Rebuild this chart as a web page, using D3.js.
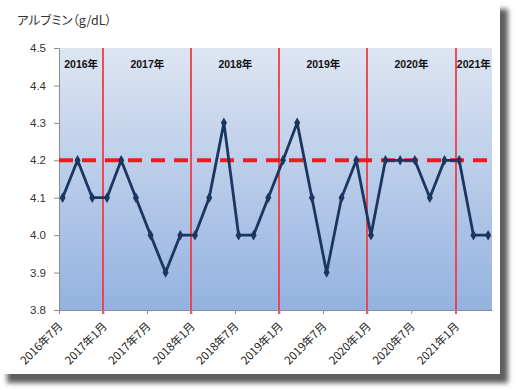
<!DOCTYPE html>
<html><head><meta charset="utf-8">
<script src="https://cdn.jsdelivr.net/npm/d3@7"></script>
<style>
html,body{margin:0;padding:0;background:#fff;}
svg{display:block;}
</style></head>
<body>
<svg id="chart" width="518" height="390"></svg>
<script>
// ---- data ----
const months = ["2016-07","2016-09","2016-11",
  "2017-01","2017-03","2017-05","2017-07","2017-09","2017-11",
  "2018-01","2018-03","2018-05","2018-07","2018-09","2018-11",
  "2019-01","2019-03","2019-05","2019-07","2019-09","2019-11",
  "2020-01","2020-03","2020-05","2020-07","2020-09","2020-11",
  "2021-01","2021-03","2021-05"];
const albumin = [4.1,4.2,4.1,
  4.1,4.2,4.1,4.0,3.9,4.0,
  4.0,4.1,4.3,4.0,4.0,4.1,
  4.2,4.3,4.1,3.9,4.1,4.2,
  4.0,4.2,4.2,4.2,4.1,4.2,
  4.2,4.0,4.0];
const targetValue = 4.2;
const yearLabels = ["2016年","2017年","2018年","2019年","2020年","2021年"];
const yearStarts = ["2016-07","2017-01","2018-01","2019-01","2020-01","2021-01"];
const xTickMonths = ["2016-07","2017-01","2017-07","2018-01","2018-07","2019-01","2019-07","2020-01","2020-07","2021-01"];
const yTicks = [3.8,3.9,4.0,4.1,4.2,4.3,4.4,4.5];
const titleText = "アルブミン（g/dL）";

// ---- layout ----
const svg = d3.select("#chart");
const parse = d3.timeParse("%Y-%m");
const L = 59, R = 492, T = 48, B = 310;
const domainStart = parse("2016-07"), domainEnd = parse("2021-06");
const x = d3.scaleTime().domain([domainStart, domainEnd]).range([L, R]);
const y = d3.scaleLinear().domain([3.8, 4.5]).range([B, T]);
const mid = m => { const d = parse(m); return new Date(d.getFullYear(), d.getMonth(), 16); };

const defs = svg.append("defs");
const f = defs.append("filter").attr("id","sh").attr("x","-10%").attr("y","-10%").attr("width","130%").attr("height","130%");
f.append("feGaussianBlur").attr("stdDeviation", 2.5);
const g = defs.append("linearGradient").attr("id","bg").attr("x1",0).attr("y1",0).attr("x2",0).attr("y2",1);
g.append("stop").attr("offset","0%").attr("stop-color","#dde5f2");
g.append("stop").attr("offset","100%").attr("stop-color","#94b2e0");

// card + shadow
svg.append("rect").attr("x",7).attr("y",9).attr("width",501).attr("height",374).attr("fill","#5e5e5e").attr("filter","url(#sh)");
svg.append("rect").attr("x",0).attr("y",0).attr("width",500).attr("height",374).attr("fill","#fff");

// plot background
svg.append("rect").attr("x",L).attr("y",T).attr("width",R-L).attr("height",B-T).attr("fill","url(#bg)");

// year boundary lines
svg.append("g").selectAll("line").data(yearStarts.slice(1)).join("line")
  .attr("x1", d => Math.round(x(parse(d)))).attr("x2", d => Math.round(x(parse(d))))
  .attr("y1", T).attr("y2", B + 4)
  .attr("stroke", "#f03c46").attr("stroke-width", 1.8);

// year labels
svg.append("g").selectAll("text").data(yearLabels).join("text")
  .attr("x", (d,i) => {
    const a = x(parse(yearStarts[i]));
    const b = i + 1 < yearStarts.length ? x(parse(yearStarts[i+1])) : R;
    return (a + b) / 2;
  })
  .attr("y", 68).attr("text-anchor","middle")
  .attr("font-family","'Liberation Sans', Arial, 'Noto Sans CJK JP', sans-serif")
  .attr("font-weight","bold").attr("font-size",10.5).attr("fill","#111")
  .text(d => d);

// y axis
const yAxis = d3.axisLeft(y).tickValues(yTicks).tickFormat(d3.format(".1f")).tickSize(5).tickPadding(8);
const ya = svg.append("g").attr("transform",`translate(${L},0)`).call(yAxis);
ya.select(".domain").attr("stroke","#8c8c8c");
ya.selectAll(".tick line").attr("stroke","#8c8c8c");
ya.selectAll("text").attr("font-family","'Liberation Sans', Arial, sans-serif").attr("font-size",11.5).attr("fill","#333");

// x axis
const xAxis = d3.axisBottom(x).tickValues(xTickMonths.map(parse)).tickFormat(d3.timeFormat("%Y年%-m月")).tickSize(4).tickSizeOuter(0);
const xa = svg.append("g").attr("transform",`translate(0,${B})`).call(xAxis);
xa.select(".domain").attr("stroke","#8c8c8c");
xa.selectAll(".tick line").attr("stroke","#8c8c8c");
xa.selectAll("text")
  .attr("font-family","'Noto Sans CJK JP', sans-serif").attr("font-size",11.3).attr("fill","#222")
  .attr("text-anchor","end").attr("dy",0).attr("y",0)
  .attr("transform","translate(4,17) rotate(-45)");

// target dashed line
svg.append("line").attr("x1",L).attr("x2",R).attr("y1",y(targetValue)).attr("y2",y(targetValue))
  .attr("stroke","#ee1c1c").attr("stroke-width",4).attr("stroke-dasharray","14,9");

// data line
const pts = months.map((m,i) => ({d: mid(m), v: albumin[i]}));
svg.append("path").datum(pts)
  .attr("fill","none").attr("stroke","#1b365f").attr("stroke-width",2.8).attr("stroke-linejoin","round")
  .attr("d", d3.line().x(p => x(p.d)).y(p => y(p.v)));
svg.append("g").selectAll("path").data(pts).join("path")
  .attr("transform", p => `translate(${x(p.d)},${y(p.v)})`)
  .attr("d", d3.symbol(d3.symbolDiamond, 32))
  .attr("fill","#1b365f");

// title
svg.append("text").attr("x",17).attr("y",25)
  .attr("font-family","'Noto Sans CJK JP', sans-serif").attr("font-size",12.5).attr("fill","#333")
  .style("font-feature-settings","'palt'")
  .text(titleText);
</script>
</body></html>
